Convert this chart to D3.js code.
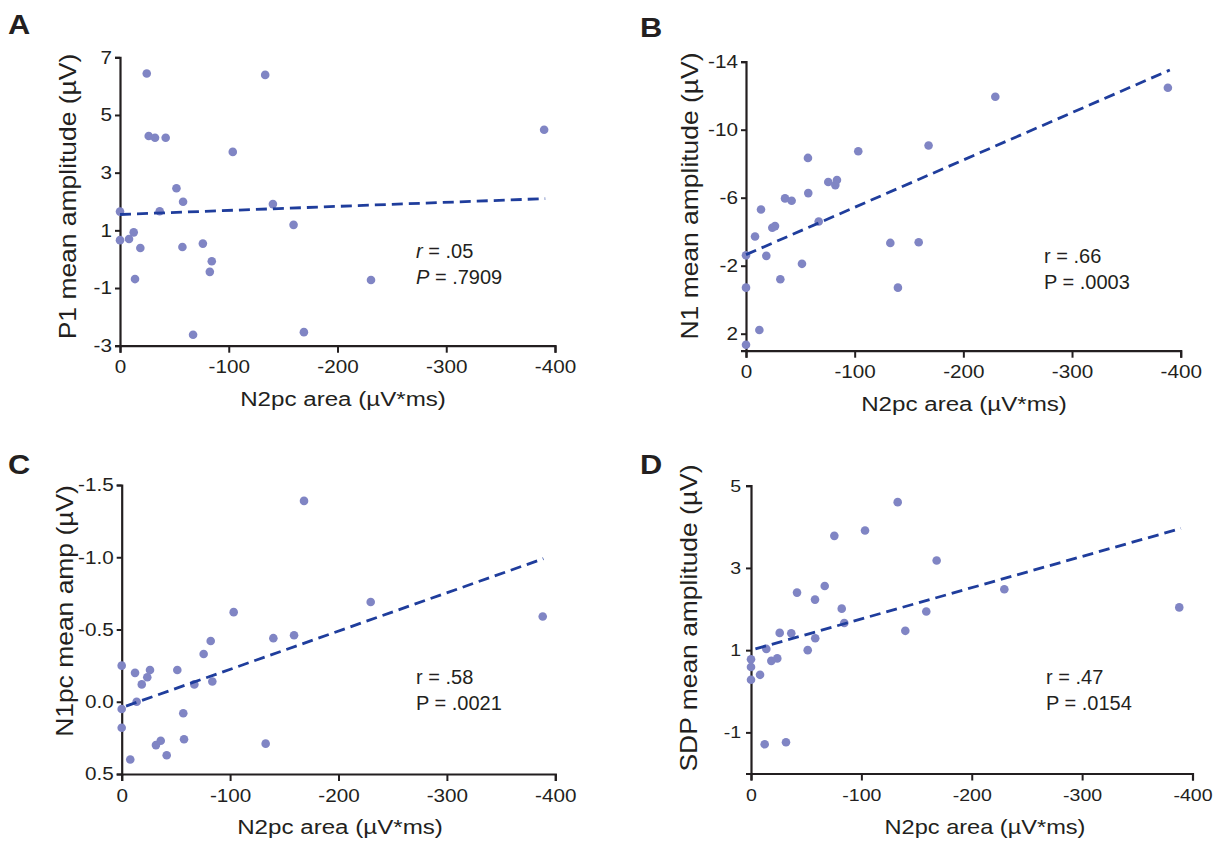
<!DOCTYPE html>
<html>
<head>
<meta charset="utf-8">
<script src="https://cdn.jsdelivr.net/npm/d3@7"></script>
<style>
    body { margin: 0; background: #fff; }
    text { font-family: "Liberation Sans", Arial, sans-serif; fill: #231f20; }
</style>
</head>
<body>
<svg id="chart" width="1225" height="843"></svg>
<script>
// shared x axis: N2pc area (µV*ms)
const xTicks = [0, -100, -200, -300, -400];

// A: P1 mean amplitude
const p1X = [-24.6, -133.5, -390, -26.4, -32.2, -42, -103.7, -51.9, -58, 0, -36.5, -140.6, -159.6,
    0, -8.3, -12.6, -18.7, -57.4, -76.2, -84.4, -82.6, -13.8, -230.8, -67.2, -169.1];
const p1Y = [6.44, 6.39, 4.49, 4.27, 4.21, 4.21, 3.72, 2.46, 1.99, 1.65, 1.66, 1.91, 1.19,
    0.66, 0.70, 0.93, 0.39, 0.42, 0.54, -0.07, -0.44, -0.69, -0.72, -2.62, -2.53];
const p1Ticks = [7, 5, 3, 1, -1, -3];
const p1Fit = [[0, 1.55], [-391, 2.10]];

// B: N1 mean amplitude
const n1X = [-388.2, -229.4, -168, -103.3, -57, -75.7, -83.7, -82.2, -57.3, -35.9, -42, -13.8, -66.9,
    -24.2, -26.7, -8.3, -132.8, -158.9, 0, -18.7, -51.5, -31.6, 0, -139.8, -12.3, 0];
const n1Y = [-12.47, -11.94, -9.07, -8.73, -8.34, -6.92, -7.04, -6.74, -6.27, -5.96, -5.82, -5.31, -4.60,
    -4.23, -4.33, -3.72, -3.34, -3.38, -2.61, -2.58, -2.11, -1.2, -0.71, -0.71, 1.78, 2.65];
const n1Ticks = [-14, -10, -6, -2, 2];
const n1Fit = [[0, -2.65], [-390, -13.51]];

// C: N1pc mean amp
const n1pcX = [-168.2, -229.7, -388.4, -103.3, -139.9, -159, -82.1, -75.6, 0, -12.3, -26.1, -23.6, -51.3,
    -18.5, -67, -83.6, -13.8, 0, -56.8, 0, -36, -31.6, -57.5, -132.8, -41.5, -7.9];
const n1pcY = [-1.39, -0.69, -0.59, -0.62, -0.44, -0.46, -0.42, -0.33, -0.25, -0.20, -0.22, -0.17, -0.22,
    -0.12, -0.12, -0.14, 0.0, 0.05, 0.08, 0.18, 0.27, 0.30, 0.26, 0.29, 0.37, 0.40];
const n1pcTicks = [-1.5, -1.0, -0.5, 0.0, 0.5];
const n1pcFit = [[-4, 0.03], [-389, -0.99]];

// D: SDP mean amplitude
const sdpX = [-132.9, -103.3, -75.5, -168.2, -66.8, -41.7, -229.5, -58, -388, -82.2, -158.8, -84.5, -139.8,
    -26, -36.5, -58.2, -13.9, -51.4, 0, -23.8, -18.4, 0, -8.2, 0, -31.7, -12.4];
const sdpY = [4.60, 3.91, 3.78, 3.18, 2.56, 2.40, 2.48, 2.23, 2.04, 2.01, 1.94, 1.66, 1.47,
    1.42, 1.41, 1.29, 1.03, 1.00, 0.78, 0.80, 0.74, 0.59, 0.40, 0.28, -1.24, -1.29];
const sdpTicks = [5, 3, 1, -1];
const sdpFit = [[-4, 1.03], [-389.5, 3.96]];

const svg = d3.select("#chart");
const dotColor = "#8085c4";
const lineColor = "#1f3d9c";
const ink = "#231f20";

// stretch text glyphs sideways, the source font runs wider than Arial
function stretch(sel, sx) {
    sel.each(function() {
        let t = d3.select(this);
        let tx = +t.attr("x") || 0;
        t.attr("x", 0).attr("transform", `translate(${tx},0) scale(${sx},1)`);
    });
}

function drawPanel(p) {
    let g = svg.append("g");

    let x = d3.scaleLinear().domain([0, -400]).range([p.left, p.right]);
    let y = d3.scaleLinear().domain(p.yDomain).range([p.bottom, p.top]);

    // x axis
    let xa = g.append("g")
        .attr("transform", `translate(0,${p.bottom})`)
        .call(d3.axisBottom(x).tickValues(xTicks).tickSizeOuter(0).tickSize(7).tickPadding(8)
            .tickFormat(d => d === 0 ? "0" : String(d)));
    // y axis
    let ya = g.append("g")
        .attr("transform", `translate(${p.left},0)`)
        .call(d3.axisLeft(y).tickValues(p.ticks).tickSizeOuter(0).tickSize(5).tickPadding(p.yPad)
            .tickFormat(p.fmt));

    [xa, ya].forEach(a => {
        a.select(".domain").attr("stroke", ink).attr("stroke-width", 2.2);
        a.selectAll(".tick line").attr("stroke", ink).attr("stroke-width", 2);
        a.selectAll("text").attr("font-size", p.tickFont).attr("fill", ink)
            .style("font-family", '"Liberation Sans", Arial, sans-serif');
        stretch(a.selectAll("text"), 1.15);
    });

    // points
    g.selectAll("circle")
        .data(p.xs.map((d, i) => [d, p.ys[i]]))
        .enter()
        .append("circle")
        .attr("cx", d => x(d[0]))
        .attr("cy", d => y(d[1]))
        .attr("r", 4.3)
        .attr("fill", dotColor);

    // regression line
    g.append("path")
        .datum(p.fit)
        .attr("d", d3.line().x(d => x(d[0])).y(d => y(d[1])))
        .attr("fill", "none")
        .attr("stroke", lineColor)
        .attr("stroke-width", 2.8)
        .attr("stroke-dasharray", "11,6");

    // axis titles
    g.append("text")
        .attr("transform", `translate(${p.xTitle[0]},${p.xTitle[1]}) scale(1.15,1)`)
        .attr("text-anchor", "middle")
        .attr("font-size", p.titleFont)
        .text("N2pc area (µV*ms)");

    g.append("text")
        .attr("transform", `translate(${p.yTitle[0]},${p.yTitle[1]}) rotate(-90) scale(1.15,1)`)
        .attr("text-anchor", "middle")
        .attr("font-size", p.yTitleFont)
        .text(p.yLabel);

    // stats
    let st = g.append("text")
        .attr("x", p.stat[0])
        .attr("y", p.stat[1])
        .attr("font-size", 20);
    st.append("tspan").attr("font-style", p.italic ? "italic" : null).text(p.italic ? "r" : "r");
    st.append("tspan").text(" = " + p.r);
    let st2 = g.append("text")
        .attr("x", p.stat[0])
        .attr("y", p.stat[1] + 25.5)
        .attr("font-size", 20);
    st2.append("tspan").attr("font-style", p.italic ? "italic" : null).text("P");
    st2.append("tspan").text(" = " + p.pval);

    // panel letter
    g.append("text")
        .attr("transform", `translate(${p.letterPos[0]},${p.letterPos[1]}) scale(1.1,1)`)
        .attr("font-size", 28)
        .attr("font-weight", "bold")
        .text(p.letter);
}

drawPanel({
    letter: "A", letterPos: [8, 34],
    xs: p1X, ys: p1Y, ticks: p1Ticks, fit: p1Fit, fmt: d => String(d),
    left: 120, right: 555, top: 57.3, bottom: 345.7, yDomain: [-3, 7], yPad: 3,
    tickFont: 18, titleFont: 21, yTitleFont: 23,
    xTitle: [343, 406], yTitle: [76, 196.5], yLabel: "P1 mean amplitude (µV)",
    stat: [416, 258], r: ".05", pval: ".7909", italic: true
});

drawPanel({
    letter: "B", letterPos: [640, 37],
    xs: n1X, ys: n1Y, ticks: n1Ticks, fit: n1Fit, fmt: d => String(d),
    left: 746, right: 1180.7, top: 61.7, bottom: 350.7, yDomain: [3, -14], yPad: 3,
    tickFont: 18, titleFont: 21, yTitleFont: 23,
    xTitle: [964, 411], yTitle: [698, 196], yLabel: "N1 mean amplitude (µV)",
    stat: [1044, 263], r: ".66", pval: ".0003", italic: false
});

drawPanel({
    letter: "C", letterPos: [8, 474],
    xs: n1pcX, ys: n1pcY, ticks: n1pcTicks, fit: n1pcFit, fmt: d => d.toFixed(1),
    left: 121.7, right: 555.3, top: 485, bottom: 774, yDomain: [0.5, -1.5], yPad: 3,
    tickFont: 18, titleFont: 21, yTitleFont: 23,
    xTitle: [340, 834], yTitle: [72.7, 611], yLabel: "N1pc mean amp (µV)",
    stat: [416, 684], r: ".58", pval: ".0021", italic: false
});

drawPanel({
    letter: "D", letterPos: [640, 474],
    xs: sdpX, ys: sdpY, ticks: sdpTicks, fit: sdpFit, fmt: d => String(d),
    left: 751, right: 1192.5, top: 485.7, bottom: 773.5, yDomain: [-2, 5], yPad: 5,
    tickFont: 17, titleFont: 20.5, yTitleFont: 23,
    xTitle: [985, 834], yTitle: [697, 618], yLabel: "SDP mean amplitude (µV)",
    stat: [1046, 684], r: ".47", pval: ".0154", italic: false
});
</script>
</body>
</html>
